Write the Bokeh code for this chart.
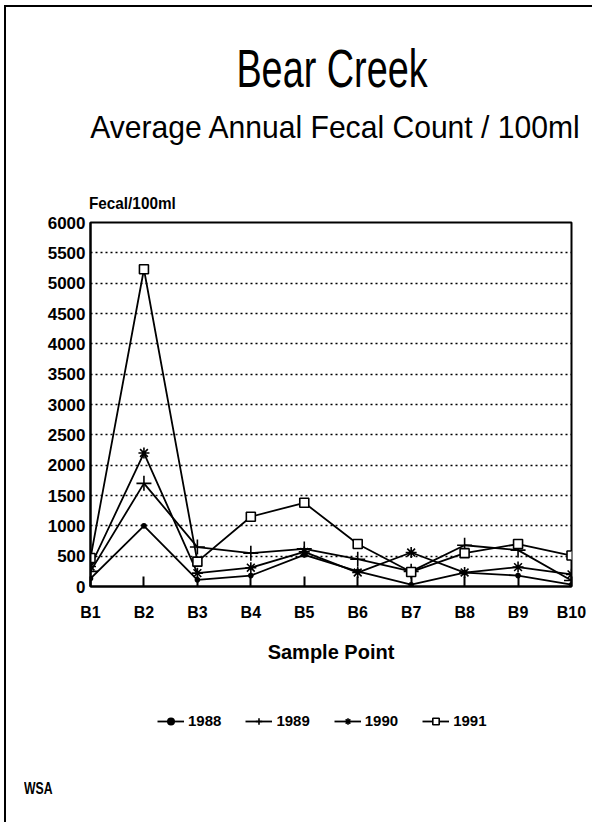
from bokeh.plotting import figure
from bokeh.layouts import column
from bokeh.models import Range1d, FixedTicker, Legend, LegendItem, Div
from bokeh.embed import file_html
from bokeh.resources import INLINE

# ---------------- data ----------------
sample_points = ["B1", "B2", "B3", "B4", "B5", "B6", "B7", "B8", "B9", "B10"]
years = ["1988", "1989", "1990", "1991"]
fecal_1988 = [130, 1000, 110, 180, 520, 250, 30, 230, 180, 30]
fecal_1989 = [250, 1700, 650, 550, 620, 450, 250, 680, 600, 100]
fecal_1990 = [330, 2200, 220, 310, 570, 230, 560, 230, 320, 200]
fecal_1991 = [470, 5230, 410, 1150, 1380, 700, 240, 550, 700, 510]
y_ticks = [0, 500, 1000, 1500, 2000, 2500, 3000, 3500, 4000, 4500, 5000, 5500, 6000]

title_text = "Bear Creek"
subtitle_text = "Average Annual Fecal Count / 100ml"
y_label_text = "Fecal/100ml"
x_label_text = "Sample Point"
note_text = "WSA"

series = [fecal_1988, fecal_1989, fecal_1990, fecal_1991]
x_pos = list(range(len(sample_points)))

# ---------------- layout (page pixels) ----------------
OX, OY = 6, 7                  # content origin inside the page border
PAGE_W, PAGE_H = 592, 822
W = PAGE_W - OX
TOP_END, MAIN_END, LEG_END = 213, 680, 760
FRAME_L, FRAME_R, FRAME_T, FRAME_B = 90, 571, 222, 586
FONT = "Liberation Sans"
markers = ["circle", "cross", "asterisk", "square"]
sizes = [4, 15, 11, 9]


def span(text, left, top, size, width=None, align="left", weight="normal", sx=1.0):
    w = f"width:{width}px;" if width else ""
    origin = "50% 50%" if align == "center" else "0 50%"
    return (f'<div style="position:absolute;left:{left}px;top:{top:.1f}px;{w}'
            f'text-align:{align};font-size:{size}px;line-height:{size}px;'
            f'font-weight:{weight};white-space:nowrap;transform:scaleX({sx});'
            f'transform-origin:{origin};">{text}</div>')


def baseline_top(baseline, size, y0):
    # Liberation Sans: ascent .905, descent .212 em; line-height = 1em
    return baseline - 0.8465 * size - y0


def text_block(children, height):
    html = (f'<div style="position:relative;width:{W}px;height:{height}px;'
            f'font-family:\'{FONT}\',sans-serif;color:black;">' + "".join(children) + "</div>")
    return Div(text=html, width=W, height=height, margin=0)


# ---------------- top: titles ----------------
top = text_block([
    span(title_text, 332 - OX - 250, baseline_top(87, 54, OY), 54, width=500,
         align="center", sx=0.7),
    span(subtitle_text, 335 - OX - 280, baseline_top(138, 32, OY), 32, width=560,
         align="center", sx=0.94),
    span(y_label_text, 89 - OX, baseline_top(209, 17, OY), 17, weight="bold", sx=0.9),
], TOP_END - OY)

# ---------------- main chart ----------------
p = figure(width=W, height=MAIN_END - TOP_END, output_backend="svg",
           toolbar_location=None, title=None,
           x_range=Range1d(0, len(sample_points) - 1),
           y_range=Range1d(0, y_ticks[-1]),
           min_border_left=FRAME_L - OX, min_border_right=OX + W - FRAME_R,
           min_border_top=FRAME_T - TOP_END, min_border_bottom=MAIN_END - FRAME_B)
p.background_fill_color = "white"
p.border_fill_color = "white"
p.outline_line_color = "black"
p.outline_line_width = 2

p.xaxis.ticker = FixedTicker(ticks=x_pos)
p.xaxis.major_label_overrides = {i: s for i, s in enumerate(sample_points)}
p.xaxis.major_tick_in = 10
p.xaxis.major_tick_out = 0
p.xaxis.minor_tick_line_color = None
p.xaxis.axis_line_width = 2
p.xaxis.major_tick_line_width = 2
p.xaxis.major_label_text_font = FONT
p.xaxis.major_label_text_font_style = "bold"
p.xaxis.major_label_text_font_size = "16px"
p.xaxis.major_label_text_color = "black"
p.xaxis.major_label_standoff = 17
p.xaxis.axis_label = x_label_text
p.xaxis.axis_label_text_font = FONT
p.xaxis.axis_label_text_font_style = "bold"
p.xaxis.axis_label_text_font_size = "20px"
p.xaxis.axis_label_text_color = "black"
p.xaxis.axis_label_standoff = 17

p.yaxis.ticker = FixedTicker(ticks=y_ticks)
p.yaxis.major_tick_in = 0
p.yaxis.major_tick_out = 0
p.yaxis.minor_tick_line_color = None
p.yaxis.axis_line_width = 2
p.yaxis.major_label_text_font = FONT
p.yaxis.major_label_text_font_style = "bold"
p.yaxis.major_label_text_font_size = "17px"
p.yaxis.major_label_text_color = "black"
p.yaxis.major_label_standoff = 5

p.xgrid.visible = False
p.ygrid.ticker = FixedTicker(ticks=y_ticks[1:-1])
p.ygrid.grid_line_color = "black"
p.ygrid.grid_line_dash = "2 3"
p.ygrid.grid_line_width = 1.5

for vals, mk, sz in zip(series, markers, sizes):
    p.line(x_pos, vals, line_color="black", line_width=1.8)
    p.scatter(x_pos, vals, marker=mk, size=sz, line_color="black",
              fill_color="black" if mk == "circle" else "white", line_width=1.6)

# ---------------- legend strip ----------------
leg = figure(width=W, height=LEG_END - MAIN_END, output_backend="svg",
             toolbar_location=None, title=None,
             x_range=Range1d(0, len(sample_points) - 1), y_range=Range1d(0, y_ticks[-1]),
             x_axis_type=None, y_axis_type=None,
             min_border_left=FRAME_L - OX, min_border_right=OX + W - FRAME_R,
             min_border_top=0, min_border_bottom=0)
leg.grid.visible = False
leg.outline_line_color = None
items = []
for yr, vals, mk, sz in zip(years, series, markers, sizes):
    lr = leg.line(x_pos, vals, line_color="black", line_width=1.8, visible=False)
    sr = leg.scatter(x_pos, vals, marker=mk, size=sz, line_color="black",
                     fill_color="black" if mk == "circle" else "white",
                     line_width=1.6, visible=False)
    items.append(LegendItem(label=yr, renderers=[lr, sr]))
legend = Legend(items=items, orientation="horizontal",
                location=(157 - FRAME_L, LEG_END - 729),
                glyph_width=27, glyph_height=16, label_height=16,
                label_standoff=4, spacing=24, padding=0, margin=0,
                border_line_alpha=0, background_fill_alpha=0,
                label_text_font=FONT, label_text_font_style="bold",
                label_text_font_size="15px", label_text_color="black")
leg.add_layout(legend)

# ---------------- bottom note ----------------
note = text_block([
    span(note_text, 24 - OX, baseline_top(794, 17, LEG_END), 17, weight="bold", sx=0.72),
], PAGE_H - LEG_END)

page = column(top, p, leg, note, spacing=0,
              styles={"border-left": "2px solid black", "border-top": "2px solid black",
                      "margin-left": "4px", "margin-top": "5px"})
open("out.html", "w").write(file_html(page, INLINE))
